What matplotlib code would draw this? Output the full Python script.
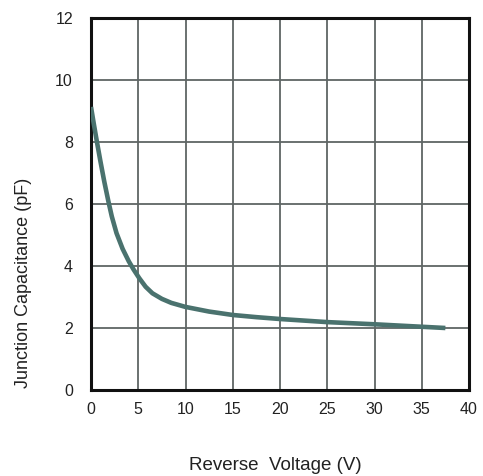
import matplotlib.pyplot as plt

plt.rcParams['font.family'] = ['Liberation Sans', 'DejaVu Sans']

# reverse voltage (V) vs junction capacitance (pF)
voltage = [0, 0.3, 0.63, 0.99, 1.4, 1.83, 2.2, 2.7, 3.35, 4.0, 4.5, 5.1, 5.78,
           6.5, 7.5, 8.5, 10, 12.5, 15, 17.5, 20, 25, 30, 35, 37.5]
capacitance = [9.13, 8.58, 8.0, 7.39, 6.73, 6.1, 5.6, 5.06, 4.55, 4.15, 3.89, 3.61, 3.33,
               3.12, 2.94, 2.81, 2.68, 2.53, 2.42, 2.35, 2.29, 2.19, 2.12, 2.04, 2.0]

xticks = [0, 5, 10, 15, 20, 25, 30, 35, 40]
yticks = [0, 2, 4, 6, 8, 10, 12]

fig = plt.figure(figsize=(4.83, 4.76), dpi=100)
ax = fig.add_axes([91/483, 1 - 390/476, 378/483, 372/476])

ax.plot(voltage, capacitance, color='#4a726e', lw=3.3, solid_capstyle='butt',
        solid_joinstyle='round', zorder=3)

ax.set_xlim(0, 40)
ax.set_ylim(0, 12)
ax.set_xticks(xticks)
ax.set_yticks(yticks)
ax.grid(True, color='#5f6665', lw=1.3)
ax.tick_params(length=0, labelsize=11.5, colors='#222222')
ax.tick_params(axis='x', pad=9)
ax.tick_params(axis='y', pad=13)
for s in ax.spines.values():
    s.set_linewidth(2.2)
    s.set_color('#111111')

fig.text(275/483, 1 - 465/476, 'Reverse  Voltage (V)', fontsize=13.5, color='#222222',
         ha='center', va='center')
fig.text(24/483, 1 - 283/476, 'Junction Capacitance (pF)', fontsize=13, color='#222222',
         ha='center', va='center', rotation=90)

fig.savefig('out.png', dpi=100)
